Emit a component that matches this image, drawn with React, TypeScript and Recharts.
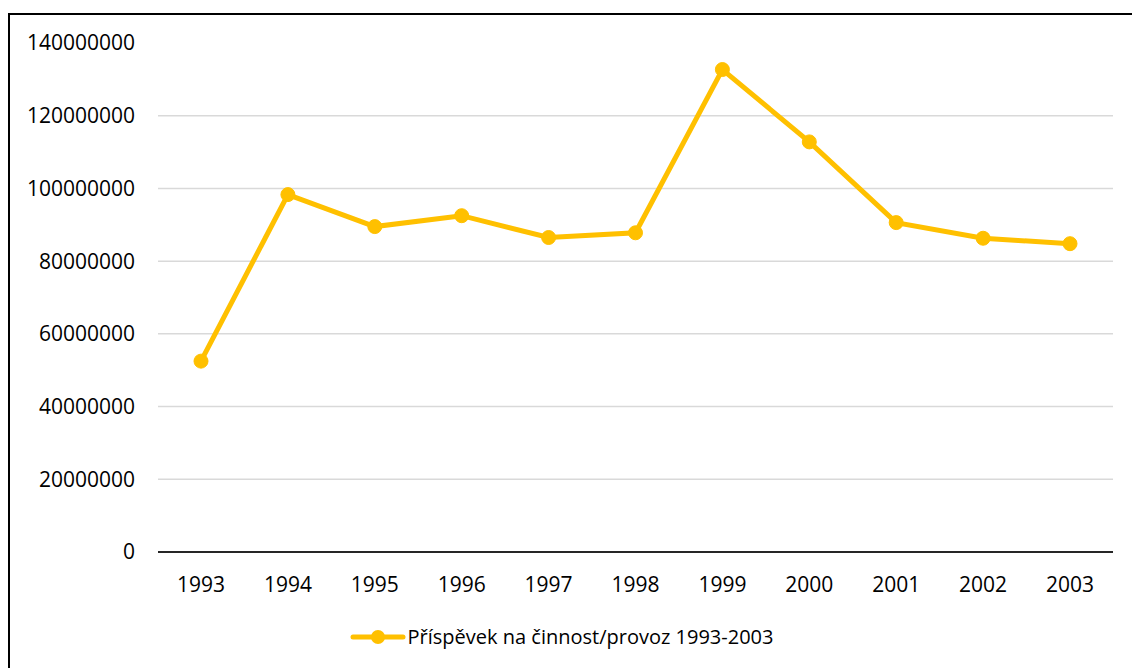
import { CartesianGrid, Legend, Line, LineChart, XAxis, YAxis } from "recharts";

const years = ["1993", "1994", "1995", "1996", "1997", "1998", "1999", "2000", "2001", "2002", "2003"];
const contribution = [
  52500000, 98300000, 89500000, 92500000, 86500000, 87800000, 132700000, 112800000, 90600000, 86300000, 84800000,
];
const yTicks = [0, 20000000, 40000000, 60000000, 80000000, 100000000, 120000000, 140000000];
const gridValues = [20000000, 40000000, 60000000, 80000000, 100000000, 120000000];

const seriesName = "Příspěvek na činnost/provoz 1993-2003";
const gold = "#FFC000";
const font = "'Open Sans', sans-serif";

const data = years.map((year, i) => ({ year, value: contribution[i] }));

function LegendContent() {
  return (
    <div style={{ display: "flex", justifyContent: "center", alignItems: "center", fontFamily: font, fontSize: 20, color: "#000" }}>
      <svg width={56} height={16} style={{ marginRight: 2 }}>
        <line x1={3} y1={8} x2={53} y2={8} stroke={gold} strokeWidth={5} strokeLinecap="round" />
        <circle cx={28} cy={8} r={7} fill={gold} />
      </svg>
      <span>{seriesName}</span>
    </div>
  );
}

export default function App() {
  return (
    <div
      style={{
        position: "fixed",
        left: 8,
        top: 13,
        width: 1124,
        height: 655,
        borderTop: "2px solid #000",
        borderLeft: "2px solid #000",
        background: "#fff",
      }}
    >
      <LineChart width={1122} height={653} data={data} margin={{ top: 28, right: 19, bottom: 59, left: 0 }}>
        <CartesianGrid horizontal vertical={false} horizontalValues={gridValues} stroke="#d9d9d9" strokeWidth={1.5} />
        <XAxis
          dataKey="year"
          padding={{ left: 43, right: 43 }}
          axisLine={{ stroke: "#262626", strokeWidth: 2 }}
          tickLine={false}
          tickSize={0}
          tickMargin={25}
          tick={{ fill: "#000", fontSize: 21, fontFamily: font }}
          interval={0}
        />
        <YAxis
          width={148}
          domain={[0, 140000000]}
          ticks={yTicks}
          axisLine={false}
          tickLine={false}
          tickSize={0}
          tickMargin={23}
          tick={{ fill: "#000", fontSize: 21, fontFamily: font }}
          interval={0}
        />
        <Legend verticalAlign="bottom" wrapperStyle={{ bottom: 18 }} content={<LegendContent />} />
        <Line
          type="linear"
          dataKey="value"
          name={seriesName}
          stroke={gold}
          strokeWidth={5}
          dot={{ r: 7, fill: gold, stroke: gold, strokeWidth: 1 }}
          isAnimationActive={false}
        />
      </LineChart>
    </div>
  );
}
